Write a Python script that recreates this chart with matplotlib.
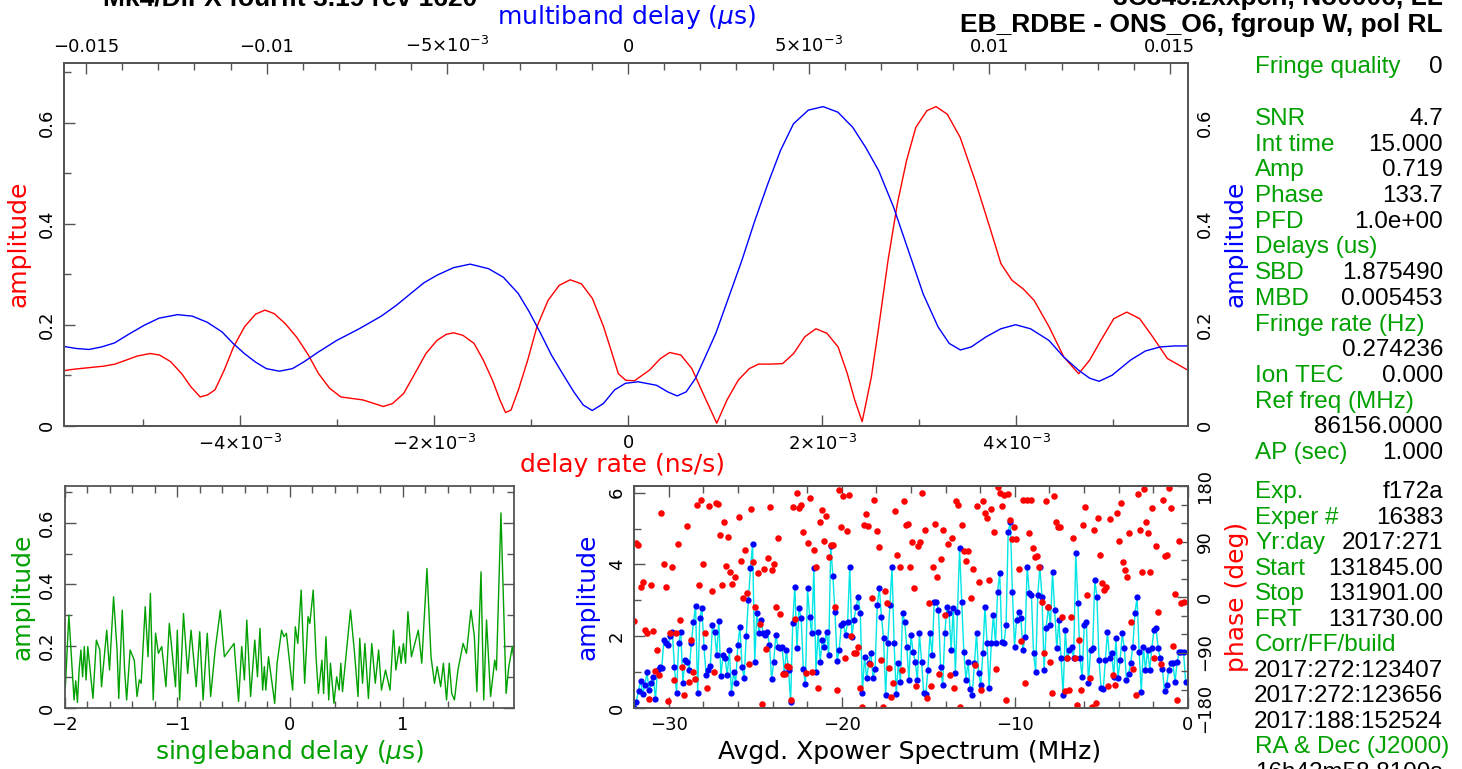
import numpy as np
import matplotlib.pyplot as plt
from matplotlib.ticker import MultipleLocator, FixedLocator

W, H = 1462, 769
RED, BLUE, GREEN, CYAN = '#ff0000', '#0000ff', '#00a000', '#00e5e5'
FRAME = '#555555'

# delay rate spectrum (red), x in units of 1e-3 ns/s
rate_x = [-5.814, -5.707, -5.555, -5.402, -5.288, -5.173, -5.059, -4.926, -4.830,
          -4.716, -4.601, -4.506, -4.411, -4.334, -4.258, -4.163, -4.067, -3.953,
          -3.839, -3.743, -3.648, -3.533, -3.419, -3.305, -3.190, -3.076, -2.961,
          -2.847, -2.733, -2.618, -2.523, -2.427, -2.313, -2.199, -2.084, -1.970,
          -1.874, -1.798, -1.703, -1.588, -1.493, -1.398, -1.321, -1.264, -1.207,
          -1.131, -1.035, -0.940, -0.826, -0.711, -0.597, -0.482, -0.368, -0.253,
          -0.177, -0.101, -0.025, 0.066, 0.219, 0.333, 0.428, 0.543, 0.657, 0.772,
          0.913, 1.019, 1.134, 1.248, 1.344, 1.477, 1.592, 1.706, 1.820, 1.935,
          2.049, 2.164, 2.259, 2.335, 2.412, 2.507, 2.583, 2.678, 2.774, 2.869,
          2.965, 3.079, 3.174, 3.289, 3.422, 3.575, 3.727, 3.842, 3.956, 4.071,
          4.185, 4.338, 4.490, 4.643, 4.757, 4.872, 5.005, 5.139, 5.272, 5.406,
          5.558, 5.768]
rate_amp = [0.109, 0.112, 0.115, 0.118, 0.122, 0.130, 0.138, 0.143, 0.140,
            0.127, 0.103, 0.077, 0.057, 0.061, 0.071, 0.110, 0.156, 0.196,
            0.221, 0.229, 0.222, 0.202, 0.176, 0.143, 0.103, 0.074, 0.057,
            0.054, 0.051, 0.044, 0.038, 0.044, 0.064, 0.103, 0.143, 0.169,
            0.181, 0.184, 0.179, 0.163, 0.130, 0.090, 0.051, 0.026, 0.031,
            0.071, 0.130, 0.196, 0.248, 0.278, 0.289, 0.281, 0.252, 0.196,
            0.150, 0.103, 0.090, 0.089, 0.110, 0.133, 0.145, 0.140, 0.113, 0.064,
            0.005, 0.051, 0.090, 0.113, 0.122, 0.122, 0.123, 0.143, 0.176, 0.192,
            0.183, 0.156, 0.103, 0.051, 0.008, 0.097, 0.196, 0.327, 0.439, 0.525,
            0.591, 0.624, 0.632, 0.617, 0.571, 0.486, 0.393, 0.321, 0.288, 0.271,
            0.248, 0.196, 0.136, 0.103, 0.130, 0.169, 0.212, 0.225, 0.212, 0.176,
            0.133, 0.110]

# multiband delay spectrum (blue), x in units of 1e-3 us
mbd_x = [-15.62, -15.28, -14.92, -14.57, -14.21, -13.80, -13.39, -12.98, -12.47,
         -12.06, -11.65, -11.24, -10.93, -10.62, -10.31, -10.01, -9.65, -9.29,
         -8.98, -8.57, -8.06, -7.44, -6.83, -6.42, -6.01, -5.65, -5.29, -4.83,
         -4.37, -3.86, -3.45, -3.04, -2.73, -2.42, -2.12, -1.81, -1.50, -1.24,
         -0.99, -0.68, -0.37, -0.07, 0.28, 0.79, 1.10, 1.36, 1.61, 1.87, 2.18,
         2.43, 2.79, 3.15, 3.51, 3.87, 4.22, 4.58, 4.99, 5.40, 5.81, 6.22, 6.58,
         6.94, 7.35, 7.76, 8.17, 8.58, 8.89, 9.20, 9.50, 9.91, 10.32, 10.73,
         11.14, 11.65, 12.06, 12.47, 12.78, 13.04, 13.40, 13.91, 14.32, 14.73,
         15.14, 15.50]
mbd_amp = [0.157, 0.153, 0.151, 0.156, 0.164, 0.182, 0.199, 0.213, 0.220,
           0.217, 0.205, 0.186, 0.163, 0.143, 0.126, 0.113, 0.108, 0.113,
           0.126, 0.146, 0.169, 0.192, 0.217, 0.238, 0.262, 0.283, 0.298, 0.313,
           0.320, 0.311, 0.294, 0.262, 0.225, 0.183, 0.140, 0.103, 0.067, 0.041,
           0.030, 0.044, 0.071, 0.084, 0.087, 0.080, 0.067, 0.059, 0.067, 0.094,
           0.143, 0.183, 0.255, 0.327, 0.406, 0.479, 0.545, 0.598, 0.625, 0.632,
           0.621, 0.591, 0.551, 0.505, 0.433, 0.347, 0.261, 0.196, 0.163, 0.150,
           0.156, 0.176, 0.192, 0.200, 0.192, 0.169, 0.136, 0.110, 0.094, 0.088,
           0.100, 0.130, 0.148, 0.156, 0.158, 0.158]

# singleband delay (green), us
sbd_x = [-1.994, -1.963, -1.917, -1.902, -1.887, -1.872, -1.856, -1.841, -1.826,
         -1.810, -1.795, -1.774, -1.749, -1.719, -1.688, -1.673, -1.627, -1.602,
         -1.566, -1.535, -1.520, -1.489, -1.468, -1.450, -1.419, -1.382, -1.358,
         -1.337, -1.321, -1.285, -1.260, -1.239, -1.214, -1.193, -1.168, -1.138,
         -1.101, -1.071, -1.016, -1.000, -0.979, -0.945, -0.908, -0.878, -0.832,
         -0.801, -0.771, -0.734, -0.704, -0.664, -0.618, -0.582, -0.496, -0.456,
         -0.428, -0.404, -0.383, -0.349, -0.312, -0.288, -0.266, -0.242, -0.227,
         -0.214, -0.190, -0.135, -0.114, -0.074, -0.053, -0.031, 0.024, 0.048,
         0.070, 0.100, 0.131, 0.161, 0.177, 0.207, 0.232, 0.253, 0.284, 0.299,
         0.320, 0.345, 0.360, 0.391, 0.415, 0.437, 0.452, 0.467, 0.538, 0.574,
         0.605, 0.620, 0.645, 0.666, 0.697, 0.727, 0.758, 0.788, 0.813, 0.849,
         0.889, 0.920, 0.941, 0.972, 0.987, 1.008, 1.027, 1.048, 1.079, 1.140,
         1.171, 1.217, 1.253, 1.284, 1.308, 1.339, 1.363, 1.391, 1.415, 1.437,
         1.461, 1.492, 1.538, 1.568, 1.608, 1.638, 1.660, 1.697, 1.721, 1.746,
         1.782, 1.819, 1.834, 1.874, 1.920, 1.944, 1.975, 1.990]
sbd_amp = [0.069, 0.301, 0.026, 0.088, 0.018, 0.123, 0.188, 0.101, 0.199,
           0.091, 0.199, 0.123, 0.031, 0.220, 0.188, 0.069, 0.252, 0.123,
           0.360, 0.188, 0.031, 0.317, 0.123, 0.026, 0.188, 0.155, 0.037,
           0.091, 0.080, 0.328, 0.166, 0.371, 0.026, 0.242, 0.177, 0.199,
           0.069, 0.274, 0.069, 0.252, 0.026, 0.306, 0.112, 0.252, 0.069,
           0.247, 0.026, 0.242, 0.037, 0.188, 0.317, 0.166, 0.209, 0.021,
           0.199, 0.091, 0.285, 0.037, 0.220, 0.101, 0.258, 0.058, 0.134,
           0.058, 0.166, 0.015, 0.145, 0.252, 0.231, 0.242, 0.058, 0.263,
           0.209, 0.382, 0.080, 0.296, 0.274, 0.382, 0.166, 0.047, 0.155, 0.047,
           0.231, 0.026, 0.145, 0.015, 0.101, 0.058, 0.145, 0.053, 0.317, 0.177,
           0.037, 0.226, 0.080, 0.209, 0.031, 0.209, 0.080, 0.188, 0.058, 0.123,
           0.058, 0.252, 0.123, 0.199, 0.145, 0.209, 0.145, 0.312, 0.166, 0.252,
           0.145, 0.452, 0.166, 0.080, 0.134, 0.069, 0.145, 0.026, 0.145, 0.047,
           0.026, 0.123, 0.209, 0.177, 0.317, 0.231, 0.053, 0.441, 0.026, 0.285,
           0.037, 0.155, 0.123, 0.632, 0.047, 0.134, 0.199, 0.155]

# averaged cross power spectrum: amplitude (blue) and phase in deg (red)
xp_amp = [0.00, 0.18, 0.48, 0.76, 0.39, 0.64, 0.99, 0.50, 0.69, 0.87, 0.24, 1.06,
          1.15, 1.12, 1.89, 1.80, 1.75, 2.01, 2.13, 1.15, 0.41, 1.80, 2.13, 0.69,
          1.34, 1.29, 1.06, 1.80, 2.40, 2.84, 0.43, 2.50, 2.78, 1.69, 0.92, 1.06,
          1.17, 2.31, 2.13, 1.48, 2.43, 0.89, 1.48, 1.38, 0.92, 1.62, 0.41, 1.01,
          0.69, 1.75, 2.27, 1.15, 0.83, 2.01, 3.01, 3.89, 4.57, 1.29, 2.66, 2.08,
          2.45, 2.08, 2.03, 2.11, 1.75, 0.80, 1.29, 2.03, 1.71, 1.66, 1.71, 0.97,
          1.62, 1.06, 0.18, 2.38, 3.38, 1.66, 2.78, 2.50, 1.10, 0.67, 3.33, 2.54,
          2.08, 3.89, 1.01, 2.13, 1.29, 1.89, 1.71, 2.13, 1.48, 4.51, 3.68, 2.68,
          1.31, 1.62, 2.31, 2.36, 2.03, 2.40, 3.94, 1.99, 2.45, 2.82, 3.10, 2.64,
          0.43, 1.43, 0.83, 1.24, 1.54, 0.83, 1.10, 2.87, 3.33, 2.54, 1.94, 0.36,
          1.82, 2.87, 3.92, 1.80, 0.39, 1.26, 0.73, 2.64, 2.40, 1.71, 0.78, 2.03,
          1.57, 1.29, 0.78, 2.08, 1.29, 0.41, 0.39, 1.06, 2.08, 1.48, 2.96, 2.96,
          2.73, 1.15, 0.64, 2.08, 2.82, 2.64, 1.62, 2.80, 0.97, 2.68, 4.45, 2.96,
          1.57, 0.78, 1.29, 0.52, 0.36, 1.24, 2.08, 0.97, 0.64, 1.52, 2.82, 1.80,
          0.55, 1.80, 2.59, 1.80, 3.24, 3.77, 1.85, 1.80, 2.31, 4.91, 5.19, 3.24,
          1.71, 2.45, 2.68, 2.50, 1.62, 1.99, 3.94, 3.21, 3.15, 1.52, 1.01, 3.15,
          3.94, 3.10, 1.06, 2.23, 2.82, 2.31, 3.80, 2.73, 1.66, 2.45, 1.38, 0.36,
          2.17, 1.38, 1.62, 1.71, 1.38, 4.33, 2.92, 1.38, 0.87, 2.31, 2.40, 0.69,
          1.62, 1.66, 3.57, 3.10, 1.34, 0.55, 0.52, 1.34, 2.13, 1.38, 1.52, 0.87,
          1.94, 0.83, 1.34, 2.08, 1.66, 0.78, 0.95, 1.26, 1.71, 2.64, 3.08, 1.57,
          0.45, 1.71, 1.06, 1.62, 1.06, 1.66, 2.17, 2.22, 1.66, 1.38, 1.10, 0.48,
          0.64, 1.06, 1.24, 1.24, 0.73, 1.29, 1.57, 1.57, 1.57, 0.73]
xp_phase = [-39, 87, 84, 17, 25, -53, -59, -166, 19, -55, -120, -86, -126, 136, 53,
            16, -169, -59, 49, -135, -59, 86, -37, -113, -159, 115, -138, -69, -121,
            -133, 149, 19, 157, 54, -59, -148, 148, 9, -121, 153, 151, 101, 19, 121,
            50, 98, 41, 21, 33, -99, 130, 59, -2, 76, 7, -108, 142, 56, -16, 39, -43,
            -174, 46, -85, 63, 146, 44, 53, -16, 95, -28, -125, -125, -112, -113,
            -167, 146, -36, 169, 144, 150, 106, -124, 88, 160, -121, 76, 48, -148,
            121, 141, 91, 131, 65, 84, 84, -17, -150, 174, 113, 164, -99, 107, 165,
            -64, -90, -90, -81, -148, -179, 117, 135, 115, -108, -1, 157, 107, 81,
            -102, -178, 10, -10, -115, -162, -139, 140, 68, 48, -118, 156, 117, 118,
            49, 90, 15, -144, 83, 90, 169, 108, -164, -10, -144, 48, 119, 33, -125,
            61, 108, -29, 86, -126, 95, -148, 156, 150, -179, 117, 74, 58, 74, -2,
            45, -110, 148, 25, -151, 156, 136, 128, 28, 142, 106, -116, 178, 168,
            148, 165, -167, 167, 125, 94, 113, 94, 45, -72, 158, -140, 158, 103, 158,
            79, 65, 66, 49, -8, -91, 156, -16, -105, -156, 164, 122, 114, 113, -32,
            -153, -99, -151, -32, 95, -99, -175, -70, -151, 117, 146, 3, -132, -178,
            109, -172, 128, 68, 23, 11, 16, -145, 126, -126, -143, 136, 91, 152, 56,
            44, 33, 103, -40, -117, -159, 167, 109, 41, 175, 122, 104, 41, 145, -99,
            82, -24, -108, 157, 66, 68, 176, 145, -79, 5, -167, 91, -9, -8]

# fringe summary text
summary_top = [("Fringe quality", "0")]
summary_fit = [("SNR", "4.7"), ("Int time", "15.000"), ("Amp", "0.719"),
               ("Phase", "133.7"), ("PFD", "1.0e+00"), ("Delays (us)", ""),
               ("SBD", "1.875490"), ("MBD", "0.005453"), ("Fringe rate (Hz)", ""),
               ("", "0.274236"), ("Ion TEC", "0.000"), ("Ref freq (MHz)", ""),
               ("", "86156.0000"), ("AP (sec)", "1.000")]
summary_exp = [("Exp.", "f172a"), ("Exper #", "16383"), ("Yr:day", "2017:271"),
               ("Start", "131845.00"), ("Stop", "131901.00"), ("FRT", "131730.00"),
               ("Corr/FF/build", ""), ("", "2017:272:123407"), ("", "2017:272:123656"),
               ("", "2017:188:152524"), ("RA & Dec (J2000)", ""), ("", "16h42m58.8100s")]

title_left = "Mk4/DiFX fourfit 3.19 rev 1620"
title_right1 = "3C345.zxxpcn, No0006, LL"
title_right2 = "EB_RDBE - ONS_O6, fgroup W, pol RL"

plt.rcParams['font.family'] = 'DejaVu Sans'
plt.rcParams['mathtext.fontset'] = 'dejavusans'
TICK_FS = 13
LAB_FS = 18


def px_rect(x0, y0, x1, y1):
    return [x0 / W, 1 - y1 / H, (x1 - x0) / W, (y1 - y0) / H]


def style(ax, **kw):
    for s in ax.spines.values():
        s.set_color(FRAME)
        s.set_linewidth(1.3)
    ax.tick_params(which='both', direction='in', colors=FRAME, labelcolor='black',
                   labelsize=TICK_FS, width=1.0, **kw)
    ax.tick_params(which='major', length=8)
    ax.tick_params(which='minor', length=5)


def rotate_y(ax):
    for lab in ax.get_yticklabels():
        lab.set_rotation(90)
        lab.set_va('center')


fig = plt.figure(figsize=(W / 100, H / 100), dpi=100)

# ---- main panel: delay rate (bottom, red) and multiband delay (top, blue)
ax = fig.add_axes(px_rect(64.4, 62.7, 1188, 425.7))
ax.plot(np.array(rate_x) * 1e-3, rate_amp, color=RED, lw=1.0)
ax.set_xlim(-5.81e-3, 5.77e-3)
ax.set_ylim(0, 0.719)
ax.xaxis.set_major_locator(FixedLocator([-4e-3, -2e-3, 0, 2e-3, 4e-3]))
ax.set_xticklabels([r'$-4{\times}10^{-3}$', r'$-2{\times}10^{-3}$', '0',
                    r'$2{\times}10^{-3}$', r'$4{\times}10^{-3}$'])
ax.xaxis.set_minor_locator(MultipleLocator(1e-3))
ax.set_yticks([0, 0.2, 0.4, 0.6], ['0', '0.2', '0.4', '0.6'])
ax.yaxis.set_minor_locator(MultipleLocator(0.1))
style(ax, left=True, right=True, pad=6)
rotate_y(ax)
ax.set_xlabel('delay rate (ns/s)', color=RED, fontsize=LAB_FS, va='center')
ax.xaxis.set_label_coords(0.497, -0.108)
ax.set_ylabel('amplitude', color=RED, fontsize=LAB_FS, va='center')
ax.yaxis.set_label_coords(-0.0405, 0.5)

axt = ax.twiny()
axt.plot(np.array(mbd_x) * 1e-3, mbd_amp, color=BLUE, lw=1.0)
axt.set_xlim(-0.0156, 0.0155)
axt.xaxis.set_major_locator(FixedLocator([-0.015, -0.01, -0.005, 0, 0.005, 0.01, 0.015]))
axt.set_xticklabels(['\u22120.015', '\u22120.01', r'$-5{\times}10^{-3}$', '0',
                     r'$5{\times}10^{-3}$', '0.01', '0.015'])
axt.xaxis.set_minor_locator(MultipleLocator(1e-3))
style(axt, pad=5)
axt.set_xlabel('multiband delay ($\\mu$s)', color=BLUE, fontsize=LAB_FS, va='center')
axt.xaxis.set_label_coords(0.5, 1.126)

axr = ax.twinx()
axr.set_ylim(0, 0.719)
axr.set_yticks([0, 0.2, 0.4, 0.6], ['0', '0.2', '0.4', '0.6'])
axr.tick_params(axis='y', length=0, labelsize=TICK_FS, pad=6)
axr.spines[:].set_visible(False)
rotate_y(axr)
axr.set_ylabel('amplitude', color=BLUE, fontsize=LAB_FS, va='center')
axr.yaxis.set_label_coords(1.0427, 0.5)

# ---- singleband delay panel
axs = fig.add_axes(px_rect(64.7, 486, 514, 708))
axs.plot(sbd_x, sbd_amp, color=GREEN, lw=1.0)
axs.set_xlim(-2, 1.99)
axs.set_ylim(0, 0.719)
axs.set_xticks([-2, -1, 0, 1], ['\u22122', '\u22121', '0', '1'])
axs.xaxis.set_minor_locator(MultipleLocator(0.2))
axs.set_yticks([0, 0.2, 0.4, 0.6], ['0', '0.2', '0.4', '0.6'])
axs.yaxis.set_minor_locator(MultipleLocator(0.1))
style(axs, top=True, right=True, pad=6)
rotate_y(axs)
axs.set_xlabel('singleband delay ($\\mu$s)', color=GREEN, fontsize=LAB_FS, va='center')
axs.xaxis.set_label_coords(0.5, -0.198)
axs.set_ylabel('amplitude', color=GREEN, fontsize=LAB_FS, va='center')
axs.yaxis.set_label_coords(-0.095, 0.5)

# ---- cross power spectrum panel
axx = fig.add_axes(px_rect(634.3, 486, 1187.7, 708))
freq_amp = np.linspace(-32, -0.12, len(xp_amp))
axx.plot(freq_amp, xp_amp, color=CYAN, lw=1.0, zorder=2)
axx.plot(freq_amp, xp_amp, 'o', color=BLUE, ms=4.5, mec='none', zorder=3)
axx.set_xlim(-32, 0)
axx.set_ylim(0, 6.186)
axx.set_xticks([-30, -20, -10, 0], ['\u221230', '\u221220', '\u221210', '0'])
axx.xaxis.set_minor_locator(MultipleLocator(2))
axx.set_yticks([0, 2, 4, 6], ['0', '2', '4', '6'])
axx.yaxis.set_minor_locator(MultipleLocator(1))
style(axx, top=True, right=False, pad=6)
rotate_y(axx)
axx.set_xlabel('Avgd. Xpower Spectrum (MHz)', color='black', fontsize=LAB_FS, va='center')
axx.xaxis.set_label_coords(0.498, -0.198)
axx.set_ylabel('amplitude', color=BLUE, fontsize=LAB_FS, va='center')
axx.yaxis.set_label_coords(-0.0837, 0.5)

axp = axx.twinx()
freq_ph = np.linspace(-32, -0.24, len(xp_phase))
axp.plot(freq_ph, xp_phase, 'o', color=RED, ms=4.7, mec='none')
axp.set_ylim(-180, 180)
axp.set_yticks([-180, -90, 0, 90, 180], ['\u2212180', '\u221290', '0', '90', '180'])
axp.yaxis.set_minor_locator(MultipleLocator(30))
style(axp, left=False, right=True, pad=6)
rotate_y(axp)
axp.set_ylabel('phase (deg)', color=RED, fontsize=LAB_FS, va='center')
axp.yaxis.set_label_coords(1.089, 0.5)

# ---- titles and summary text
TF = dict(family='Liberation Sans', fontweight='bold', fontsize=19, color='black', va='baseline')
fig.text(477 / W, 1 - 5 / H, title_left, ha='right', **TF)
fig.text(1443 / W, 1 - 5 / H, title_right1, ha='right', **TF)
fig.text(1443 / W, 1 - 32 / H, title_right2, ha='right', **TF)

SF = dict(family='Liberation Sans', fontsize=17.5, va='baseline')


def put_lines(rows, y0, dy=25.7):
    for i, (lab, val) in enumerate(rows):
        y = 1 - (y0 + i * dy) / H
        if lab:
            fig.text(1255 / W, y, lab, color=GREEN, ha='left', **SF)
        if val:
            fig.text(1443 / W, y, val, color='black', ha='right', **SF)


put_lines(summary_top, 73)
put_lines(summary_fit, 125)
put_lines(summary_exp, 498.3, 25.5)

fig.savefig('out.png', dpi=100)
